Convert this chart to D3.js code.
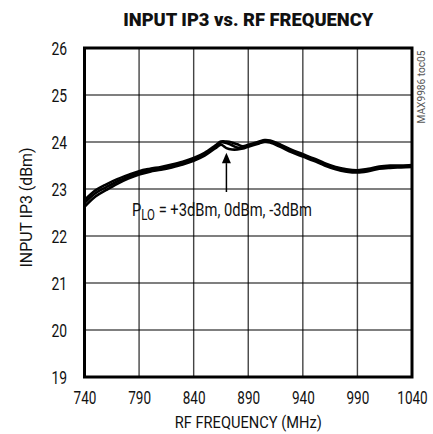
<!DOCTYPE html>
<html><head><meta charset="utf-8">
<script src="https://cdn.jsdelivr.net/npm/d3@7"></script>
<style>
html,body{margin:0;padding:0;background:#fff;}
svg{display:block;}
text{font-family:Roboto,"Liberation Sans",sans-serif;fill:#111;}
</style></head>
<body>
<svg id="c" width="433" height="434"></svg>
<script>
const freqs = [740,750,760,770,780,790,800,810,820,830,840,850,860,865,870,875,880,885,890,900,905,910,920,930,940,950,960,970,980,990,1000,1010,1020,1030,1040];
const ip3Plus3 = [22.76,22.97,23.10,23.21,23.30,23.38,23.43,23.47,23.52,23.58,23.66,23.77,23.93,24.01,24.01,23.99,23.95,23.91,23.94,24.01,24.04,24.03,23.94,23.83,23.74,23.65,23.55,23.47,23.42,23.40,23.43,23.48,23.50,23.50,23.51];
const ip3Zero  = [22.70,22.91,23.04,23.16,23.26,23.35,23.40,23.44,23.49,23.55,23.63,23.74,23.90,23.99,23.98,23.93,23.88,23.88,23.92,23.99,24.02,24.01,23.92,23.81,23.72,23.63,23.53,23.45,23.40,23.38,23.41,23.46,23.48,23.48,23.49];
const ip3Minus3 = [22.62,22.84,22.98,23.11,23.22,23.31,23.37,23.41,23.46,23.52,23.60,23.71,23.87,23.94,23.87,23.84,23.84,23.86,23.90,23.97,24.00,23.99,23.89,23.78,23.69,23.60,23.50,23.42,23.37,23.35,23.38,23.43,23.45,23.46,23.47];
const xTicks = [740,790,840,890,940,990,1040];
const yTicks = [19,20,21,22,23,24,25,26];
const title = "INPUT IP3 vs. RF FREQUENCY";
const xLabel = "RF FREQUENCY (MHz)";
const yLabel = "INPUT IP3 (dBm)";
const note = "MAX9986 toc05";

const svg = d3.select("#c");
const L = 84.5, R = 412, T = 48, B = 377;
const x = d3.scaleLinear().domain([740,1040]).range([L,R]);
const y = d3.scaleLinear().domain([19,26]).range([B,T]);

// grid
svg.append("g").selectAll("line").data(xTicks.slice(1,-1)).join("line")
  .attr("x1",d=>x(d)).attr("x2",d=>x(d)).attr("y1",T).attr("y2",B)
  .attr("stroke","#444").attr("stroke-width",1.4);
svg.append("g").selectAll("line").data(yTicks.slice(1,-1)).join("line")
  .attr("x1",L).attr("x2",R).attr("y1",d=>y(d)).attr("y2",d=>y(d))
  .attr("stroke","#000").attr("stroke-width",1.1);

// curves
const line = d3.line().x((d,i)=>x(freqs[i])).y(d=>y(d)).curve(d3.curveCatmullRom.alpha(0.5));
[ip3Plus3, ip3Zero, ip3Minus3].forEach(s=>{
  svg.append("path").datum(s).attr("d",line).attr("fill","none")
    .attr("stroke","#000").attr("stroke-width",2.6);
});

// border
svg.append("rect").attr("x",L).attr("y",T).attr("width",R-L).attr("height",B-T)
  .attr("fill","none").attr("stroke","#000").attr("stroke-width",3);

// axes labels
const xAxis = d3.axisBottom(x).tickValues(xTicks).tickSize(0).tickPadding(0).tickFormat(d3.format("d"));
const gx = svg.append("g").attr("transform",`translate(0,${B})`).call(xAxis);
gx.select(".domain").remove();
gx.selectAll("text").attr("font-size",18).attr("dy",null).attr("y",27)
  .style("font-family","Roboto,sans-serif").attr("fill","#111")
  .attr("textLength",d=>String(d).length*7.6).attr("lengthAdjust","spacingAndGlyphs");

const yAxis = d3.axisLeft(y).tickValues(yTicks).tickSize(0).tickPadding(0).tickFormat(d3.format("d"));
const gy = svg.append("g").attr("transform",`translate(67,0)`).call(yAxis);
gy.select(".domain").remove();
gy.selectAll("text").attr("font-size",18).attr("dy","0.38em").attr("x",0)
  .style("font-family","Roboto,sans-serif").attr("fill","#111")
  .attr("textLength",d=>String(d).length*7.8).attr("lengthAdjust","spacingAndGlyphs");

svg.append("text").attr("x",(L+R)/2).attr("y",26).attr("text-anchor","middle")
  .attr("font-size",19).attr("font-weight","900").attr("textLength",250).attr("lengthAdjust","spacingAndGlyphs")
  .text(title);
svg.append("text").attr("x",(L+R)/2).attr("y",428).attr("text-anchor","middle")
  .attr("font-size",17).attr("textLength",147).attr("lengthAdjust","spacingAndGlyphs").text(xLabel);
svg.append("text").attr("transform",`translate(32,${(T+B)/2-5}) rotate(-90)`).attr("text-anchor","middle")
  .attr("font-size",17).attr("textLength",120).attr("lengthAdjust","spacingAndGlyphs").text(yLabel);
svg.append("text").attr("transform",`translate(425,87) rotate(-90)`).attr("text-anchor","middle")
  .attr("font-size",10.5).attr("textLength",73).attr("lengthAdjust","spacingAndGlyphs")
  .style("fill","#555").text(note);

// annotation arrow
const ax = x(870);
svg.append("line").attr("x1",ax).attr("x2",ax).attr("y1",y(23.55)).attr("y2",192)
  .attr("stroke","#000").attr("stroke-width",1.5);
svg.append("path").attr("d",`M${ax},${y(23.77)} L${ax-4.5},${y(23.55)} L${ax+4.5},${y(23.55)} Z`).attr("fill","#000");
const t = svg.append("text").attr("x",132).attr("y",216).attr("font-size",18);
t.append("tspan").text("P");
t.append("tspan").attr("dy",4).attr("font-size",14).text("LO");
t.append("tspan").attr("dy",-4).text(" = +3dBm, 0dBm, -3dBm");
const bb = t.node().getComputedTextLength ? t.node().getComputedTextLength() : 180;
if (bb > 0) t.attr("transform",`translate(132,0) scale(${180/bb},1) translate(-132,0)`);
</script>
</body></html>
